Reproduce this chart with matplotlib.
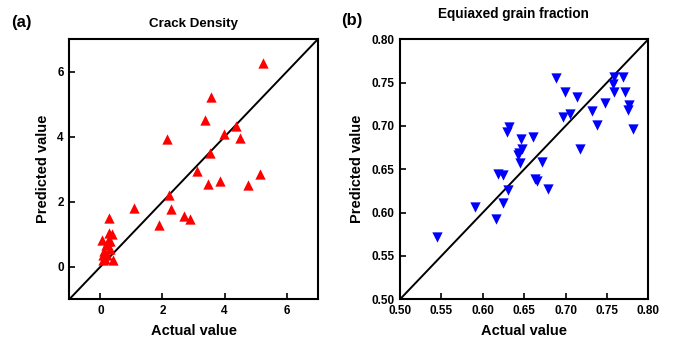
import matplotlib.pyplot as plt

plt.rcParams['font.family'] = ['Liberation Sans', 'DejaVu Sans']
plt.rcParams['font.weight'] = 'bold'

# (a) Crack Density
crack_actual = [5.23, 3.57, 3.37, 4.37, 3.99, 4.50, 2.14, 3.53, 3.10, 5.13,
                3.84, 3.46, 4.75, 2.22, 2.28, 1.09, 2.69, 2.90, 1.89, 0.28,
                0.29, 0.38, 0.04, 0.24, 0.32, 0.19, 0.30, 0.11, 0.08, 0.21,
                0.16, 0.41, 0.09]
crack_pred = [6.27, 5.22, 4.53, 4.33, 4.09, 3.96, 3.92, 3.51, 2.94, 2.86,
              2.64, 2.55, 2.52, 2.22, 1.77, 1.80, 1.56, 1.48, 1.29, 1.51,
              1.03, 1.00, 0.83, 0.79, 0.78, 0.66, 0.54, 0.49, 0.36, 0.36,
              0.24, 0.21, 0.20]

# (b) Equiaxed grain fraction
grain_actual = [0.689, 0.758, 0.770, 0.757, 0.699, 0.758, 0.772, 0.714, 0.748,
                0.777, 0.775, 0.732, 0.705, 0.697, 0.738, 0.781, 0.632, 0.629,
                0.661, 0.646, 0.647, 0.718, 0.644, 0.642, 0.672, 0.645, 0.619,
                0.625, 0.663, 0.666, 0.679, 0.630, 0.624, 0.591, 0.616, 0.545]
grain_pred = [0.755, 0.756, 0.757, 0.749, 0.739, 0.739, 0.739, 0.734, 0.726,
              0.724, 0.719, 0.717, 0.714, 0.710, 0.701, 0.697, 0.699, 0.693,
              0.687, 0.685, 0.673, 0.673, 0.669, 0.667, 0.658, 0.657, 0.645,
              0.643, 0.639, 0.637, 0.627, 0.626, 0.611, 0.606, 0.593, 0.572]

fig = plt.figure(figsize=(6.76, 3.51), dpi=100)
ax1 = fig.add_axes([0.1025, 0.1473, 0.3675, 0.7407])
ax2 = fig.add_axes([0.5917, 0.1473, 0.3673, 0.7407])


def style(ax, lim, ticks, fmt):
    ax.plot(lim, lim, color='black', lw=1.4, zorder=1)
    ax.set_xlim(lim)
    ax.set_ylim(lim)
    ax.set_xticks(ticks)
    ax.set_yticks(ticks)
    ax.set_xticklabels([fmt % t for t in ticks])
    ax.set_yticklabels([fmt % t for t in ticks])
    ax.tick_params(direction='in', length=4, width=1.2, labelsize=8.5, pad=4)
    for s in ax.spines.values():
        s.set_linewidth(1.5)
    ax.set_xlabel('Actual value', fontsize=10.5, fontweight='bold', labelpad=5)
    ax.set_ylabel('Predicted value', fontsize=10.5, fontweight='bold', labelpad=5)


ax1.scatter(crack_actual, crack_pred, marker='^', s=55, color='red', zorder=2,
            linewidths=0)
style(ax1, [-1, 7], [0, 2, 4, 6], '%d')
ax1.set_title('Crack Density', fontsize=9.6, fontweight='bold', pad=9)

ax2.scatter(grain_actual, grain_pred, marker='v', s=55, color='blue', zorder=2,
            linewidths=0)
style(ax2, [0.5, 0.8], [0.50, 0.55, 0.60, 0.65, 0.70, 0.75, 0.80], '%.2f')
ax2.set_title('Equiaxed grain fraction', fontsize=9.8, fontweight='bold',
              pad=15, x=0.455)

fig.text(0.032, 0.935, '(a)', fontsize=12, fontweight='bold', va='center', ha='center')
fig.text(0.52, 0.943, '(b)', fontsize=12, fontweight='bold', va='center', ha='center')

plt.savefig('out.png', dpi=100)
